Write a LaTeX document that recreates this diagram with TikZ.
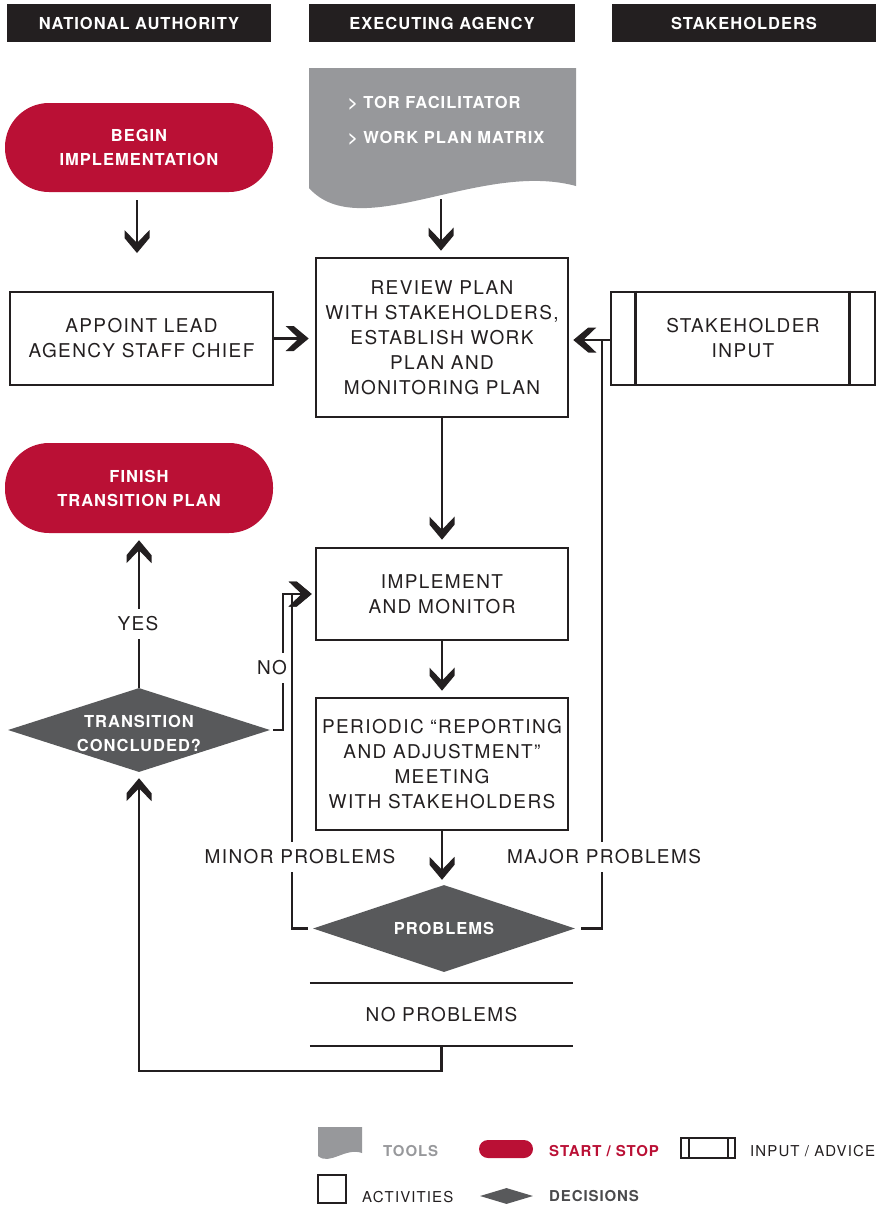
\documentclass[tikz,border=0pt]{standalone}
\usepackage{fontspec}
\setmainfont{TeX Gyre Heros}
\newfontfamily\bodyf{TeX Gyre Heros}[LetterSpace=7.4]
\newfontfamily\headf{TeX Gyre Heros}[LetterSpace=6]
\usetikzlibrary{arrows.meta,shapes.geometric}
\definecolor{crim}{HTML}{BA1035}
\definecolor{ink}{HTML}{231F20}
\definecolor{toolgray}{HTML}{97989B}
\definecolor{decgray}{HTML}{58595B}
\definecolor{legdark}{HTML}{4A4A4C}
\pgfdeclarearrow{
  name=Chev,
  setup code={
    \pgfarrowssettipend{0pt}
    \pgfarrowssetlineend{-9pt}
    \pgfarrowssetbackend{-23pt}
    \pgfarrowssetvisualbackend{-10pt}
    \pgfarrowshullpoint{0pt}{0pt}
    \pgfarrowsupperhullpoint{-23pt}{12.5pt}
  },
  drawing code={
    \pgfsetfillcolor{ink}
    \pgfpathmoveto{\pgfqpoint{0pt}{0pt}}
    \pgfpathlineto{\pgfqpoint{-15pt}{12.5pt}}
    \pgfpathlineto{\pgfqpoint{-23pt}{12.5pt}}
    \pgfpathlineto{\pgfqpoint{-10pt}{0pt}}
    \pgfpathlineto{\pgfqpoint{-23pt}{-12.5pt}}
    \pgfpathlineto{\pgfqpoint{-15pt}{-12.5pt}}
    \pgfpathclose
    \pgfusepathqfill
  }
}
\tikzset{
  bar/.style={fill=ink, text=white, font=\headf\bfseries\fontsize{16.5}{20}\selectfont, minimum width=264pt, minimum height=38pt, inner sep=0pt},
  activity/.style={draw=ink, line width=2.6pt, fill=white, text=ink, font=\bodyf\fontsize{19}{25}\selectfont, align=center, inner sep=0pt},
  terminal/.style={fill=crim, text=white, font=\headf\bfseries\fontsize{16.5}{24}\selectfont, align=center, minimum width=268pt, minimum height=89pt, rounded corners=44pt, inner sep=0pt},
  decision/.style={diamond, fill=decgray, inner sep=0pt},
  dectext/.style={text=white, font=\headf\bfseries\fontsize{16.5}{24}\selectfont, align=center, inner sep=0pt},
  tooltext/.style={text=white, font=\headf\bfseries\fontsize{16.5}{20}\selectfont, inner sep=0pt, anchor=west},
  flow/.style={draw=ink, line width=2.2pt, -{Chev}},
  link/.style={draw=ink, line width=2.2pt},
  lbl/.style={fill=white, text=ink, font=\bodyf\fontsize{19}{25}\selectfont, inner xsep=2pt, inner ysep=8pt},
  legtext/.style={anchor=west, inner sep=0pt, font=\bodyf\fontsize{15}{18}\selectfont, text=ink},
  legbold/.style={anchor=west, inner sep=0pt, font=\headf\bfseries\fontsize{15}{18}\selectfont},
}
\begin{document}
\begin{tikzpicture}[x=1pt,y=-1pt]
\useasboundingbox (0,0) rectangle (889,1205);
% headers
\node[bar] (hna) at (139,23) {NATIONAL AUTHORITY};
\node[bar, minimum width=266pt] (hea) at (442,23) {EXECUTING AGENCY};
\node[bar] (hsh) at (744,23) {STAKEHOLDERS};
% tools document
\fill[toolgray] (309,68) -- (576,68) -- (576,186) .. controls (480,160) and (360,245) .. (309,188) -- cycle;
\node[tooltext] (tool1) at (348,103) {> TOR FACILITATOR};
\node[tooltext] (tool2) at (348,138) {> WORK PLAN MATRIX};
\coordinate (toolsbot) at (441,199);
% main nodes
\node[terminal] (begin) at (139,147.5) {BEGIN\\IMPLEMENTATION};
\node[activity, minimum width=263pt, minimum height=93pt] (appoint) at (141.5,338.5) {APPOINT LEAD\\AGENCY STAFF CHIEF};
\node[activity, minimum width=252pt, minimum height=159pt] (review) at (442,337.5) {REVIEW PLAN\\WITH STAKEHOLDERS,\\ESTABLISH WORK\\PLAN AND\\MONITORING PLAN};
\node[activity, minimum width=264pt, minimum height=93pt] (stake) at (743,338.5) {STAKEHOLDER\\INPUT};
\draw[ink, line width=2.6pt] ([xshift=26pt]stake.north west) -- ([xshift=26pt]stake.south west);
\draw[ink, line width=2.6pt] ([xshift=-27pt]stake.north east) -- ([xshift=-27pt]stake.south east);
\node[terminal, minimum height=90pt] (finish) at (139,488) {FINISH\\TRANSITION PLAN};
\node[activity, minimum width=252pt, minimum height=92pt] (impl) at (442,594) {IMPLEMENT\\AND MONITOR};
\node[activity, minimum width=252pt, minimum height=132pt] (period) at (442,764) {PERIODIC “REPORTING\\AND ADJUSTMENT”\\MEETING\\WITH STAKEHOLDERS};
\node[decision, minimum width=262pt, minimum height=84pt] (trans) at (139,730) {};
\node[dectext] (transt) at (139,733) {TRANSITION\\CONCLUDED?};
\node[decision, minimum width=262pt, minimum height=87pt] (prob) at (444,928.5) {};
\node[dectext] (probt) at (444,928) {PROBLEMS};
\node[text=ink, font=\bodyf\fontsize{19}{25}\selectfont, minimum width=263pt, minimum height=63pt, inner sep=0pt] (noprob) at (441.5,1014.5) {NO PROBLEMS};
\draw[link] (noprob.north west) -- (noprob.north east);
\draw[link] (noprob.south west) -- (noprob.south east);
% connectors
\coordinate (a1) at (137,253);
\draw[flow, shorten <=8pt] (begin.south -| a1) -- (a1);
\draw[flow, shorten >=6pt] (toolsbot) -- (toolsbot |- review.north);
\draw[flow, shorten >=6pt] (appoint.east) -- (appoint.east -| review.west);
\draw[flow, shorten >=7pt] (review.south) -- (impl.north);
\draw[flow, shorten >=6pt] (impl.south) -- (period.north);
\draw[flow, shorten >=5pt] (period.south) -- (period.south |- prob.north);
\draw[flow, shorten <=5pt, shorten >=3pt] (prob.west) -- ++(-21,0) |- (impl.west);
\draw[flow, shorten <=3pt, shorten >=3pt] (trans.east) -- ++(13,0) |- (impl.west);
\coordinate (mj) at (602,340);
\draw[flow, shorten <=6pt, shorten >=4pt] (prob.east) -| (mj) -- (mj -| review.east);
\draw[link] (stake.west |- mj) -- (mj);
\draw[flow, shorten >=7pt] (trans.north) -- (finish.south);
\draw[flow, shorten >=6pt] (noprob.south) -- ++(0,25) -| (trans.south);
% labels
\node[lbl] (lminor) at (300,857) {MINOR PROBLEMS};
\node[lbl] (lmajor) at (604,857) {MAJOR PROBLEMS};
\node[lbl, inner xsep=1pt] (lno) at (272,668) {NO};
\node[lbl] (lyes) at (138,624) {YES};
% legend
\fill[toolgray] (318,1127) -- (362,1127) -- (362,1153) .. controls (345,1147) and (330,1166) .. (318,1156) -- cycle;
\node[legbold, text=toolgray] (ltools) at (383,1151) {TOOLS};
\node[fill=crim, minimum width=54pt, minimum height=18pt, rounded corners=9pt, inner sep=0pt] (lstart) at (506,1149) {};
\node[legbold, text=crim] (lstarttxt) at (549,1151) {START / STOP};
\node[draw=ink, line width=2pt, minimum width=54pt, minimum height=20pt, inner sep=0pt] (linput) at (708,1148) {};
\draw[ink, line width=2pt] ([xshift=9pt]linput.north west) -- ([xshift=9pt]linput.south west);
\draw[ink, line width=2pt] ([xshift=-8pt]linput.north east) -- ([xshift=-8pt]linput.south east);
\node[legtext] (linputtxt) at (750,1151) {INPUT / ADVICE};
\node[draw=ink, line width=2pt, minimum size=28pt, inner sep=0pt] (lact) at (331.5,1189) {};
\node[legtext] (lacttxt) at (362,1197) {ACTIVITIES};
\node[decision, minimum width=53pt, minimum height=16pt] (ldec) at (506.5,1196) {};
\node[legbold, text=legdark] (ldectxt) at (549,1196) {DECISIONS};
\end{tikzpicture}
\end{document}
